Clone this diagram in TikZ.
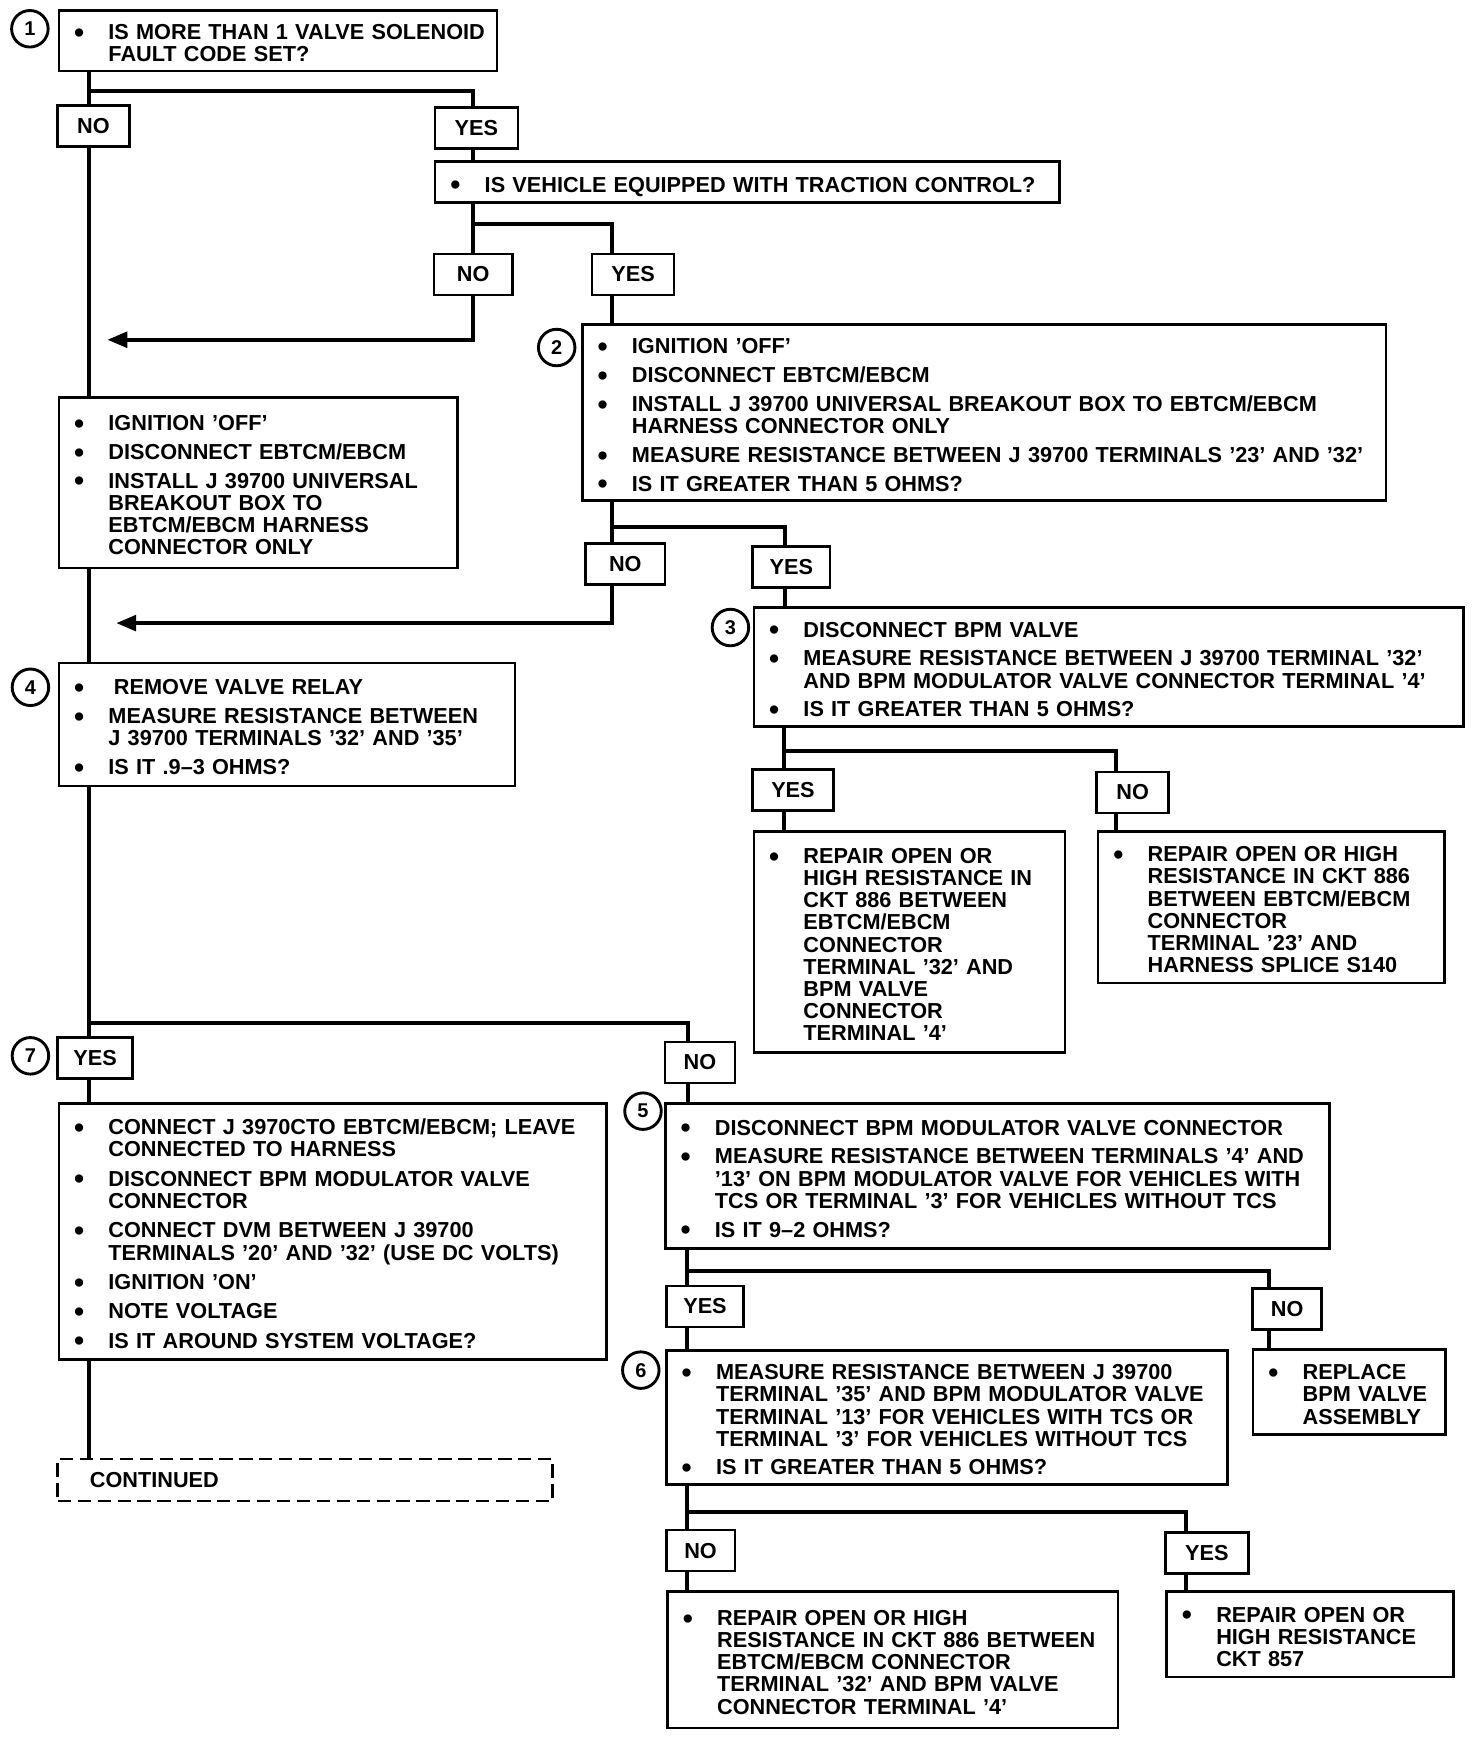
\documentclass[tikz,border=0pt]{standalone}
\usepackage{fontspec}
\setmainfont{Liberation Sans}
\usetikzlibrary{arrows.meta}

\newcommand{\bul}{\makebox[15.5pt][l]{\raisebox{-1.2pt}{\fontsize{13}{13}\selectfont\textbullet}}}
\newenvironment{checks}{\begin{tabular}{@{\hspace{6.9pt}}l@{}l@{}}\rule{0pt}{12pt}\ignorespaces}{\end{tabular}}

\tikzset{
  stepbox/.style={draw,rectangle,line width=1.2pt,anchor=north west,inner xsep=0pt,inner ysep=0pt,align=left},
  tag/.style={draw,rectangle,line width=1.2pt,minimum height=18.5pt,inner sep=0pt},
  num/.style={draw,circle,line width=1.3pt,minimum size=16.5pt,inner sep=0pt,font=\fontsize{9}{10}\selectfont\bfseries},
  link/.style={line width=1.8pt},
  back/.style={link,-{Triangle[length=9pt,width=7pt]}}
}

\begin{document}
\begin{tikzpicture}[x=0.5pt,y=-0.5pt,font=\fontsize{9.8}{10}\selectfont\bfseries]
\useasboundingbox (0,0) rectangle (1330,1570.4);
\node[num] at (27,26) (n1) {1};
\node[num] at (503,314) (n2) {2};
\node[num] at (660,567) (n3) {3};
\node[num] at (27.5,621) (n4) {4};
\node[num] at (581,1004) (n5) {5};
\node[num] at (579,1238) (n6) {6};
\node[num] at (27.5,954) (n7) {7};

\node[stepbox,text width=198pt,minimum height=27.5pt] at (52,8) (q1) {\begin{checks}
\bul & IS MORE THAN 1 VALVE SOLENOID\\ & FAULT CODE SET?\end{checks}};
\node[stepbox,text width=282pt,minimum height=18.5pt] at (392,145) (tc) {\begin{checks}
\bul & IS VEHICLE EQUIPPED WITH TRACTION CONTROL?\end{checks}};
\node[stepbox,text width=363pt,minimum height=79.5pt] at (525,292) (s2) {\begin{checks}
\bul & IGNITION 'OFF'\\[3pt]
\bul & DISCONNECT EBTCM/EBCM\\[3pt]
\bul & INSTALL J 39700 UNIVERSAL BREAKOUT BOX TO EBTCM/EBCM\\ & HARNESS CONNECTOR ONLY\\[3pt]
\bul & MEASURE RESISTANCE BETWEEN J 39700 TERMINALS '23' AND '32'\\[3pt]
\bul & IS IT GREATER THAN 5 OHMS?\end{checks}};
\node[stepbox,text width=180pt,minimum height=77pt] at (52,358) (sA) {\begin{checks}
\bul & IGNITION 'OFF'\\[3pt]
\bul & DISCONNECT EBTCM/EBCM\\[3pt]
\bul & INSTALL J 39700 UNIVERSAL\\ & BREAKOUT BOX TO\\ & EBTCM/EBCM HARNESS\\ & CONNECTOR ONLY\end{checks}};
\node[stepbox,text width=320.5pt,minimum height=53.5pt] at (680,548) (s3) {\begin{checks}
\bul & DISCONNECT BPM  VALVE\\[3pt]
\bul & MEASURE RESISTANCE  BETWEEN J  39700 TERMINAL  '32'\\ & AND BPM MODULATOR VALVE CONNECTOR TERMINAL  '4'\\[3pt]
\bul & IS IT GREATER THAN 5 OHMS?\end{checks}};
\node[stepbox,text width=206pt,minimum height=55.5pt] at (52,598) (s4) {\begin{checks}
\bul & \hspace{2.5pt}REMOVE VALVE RELAY\\[3pt]
\bul & MEASURE  RESISTANCE  BETWEEN\\ & J  39700 TERMINALS '32' AND '35'\\[3pt]
\bul & IS IT .9--3 OHMS?\end{checks}};
\node[stepbox,text width=140.5pt,minimum height=100pt] at (680,750) (rA) {\begin{checks}
\bul & REPAIR OPEN OR\\ & HIGH RESISTANCE IN\\ & CKT 886 BETWEEN\\ & EBTCM/EBCM\\ & CONNECTOR\\ & TERMINAL  '32' AND\\ & BPM  VALVE\\ & CONNECTOR\\ & TERMINAL '4'\end{checks}};
\node[stepbox,text width=156.5pt,minimum height=68.5pt] at (991,750) (rB) {\begin{checks}
\bul & REPAIR OPEN OR HIGH\\ & RESISTANCE IN CKT  886\\ & BETWEEN EBTCM/EBCM\\ & CONNECTOR\\ & TERMINAL  '23' AND\\ & HARNESS SPLICE  S140\end{checks}};
\node[stepbox,text width=247.5pt,minimum height=115.5pt] at (52,996) (s7) {\begin{checks}
\bul & CONNECT J  3970CTO EBTCM/EBCM; LEAVE\\ & CONNECTED TO HARNESS\\[3.3pt]
\bul & DISCONNECT BPM MODULATOR VALVE\\ & CONNECTOR\\[3.3pt]
\bul & CONNECT DVM BETWEEN J  39700\\ & TERMINALS '20' AND '32' (USE DC VOLTS)\\[3.3pt]
\bul & IGNITION 'ON'\\[3.3pt]
\bul & NOTE VOLTAGE\\[3.3pt]
\bul & IS IT AROUND SYSTEM VOLTAGE?\end{checks}};
\node[stepbox,text width=300pt,minimum height=65.5pt] at (600,996) (s5) {\begin{checks}
\bul & DISCONNECT BPM MODULATOR VALVE CONNECTOR\\[3pt]
\bul & MEASURE RESISTANCE BETWEEN TERMINALS  '4' AND\\ & '13' ON BPM MODULATOR VALVE FOR VEHICLES WITH\\ & TCS OR TERMINAL '3' FOR VEHICLES WITHOUT TCS\\[3pt]
\bul & IS IT  9--2  OHMS?\end{checks}};
\node[stepbox,text width=253.5pt,minimum height=60.5pt] at (601,1219) (s6) {\begin{checks}
\bul & MEASURE RESISTANCE BETWEEN J  39700\\ & TERMINAL  '35' AND BPM MODULATOR VALVE\\ & TERMINAL  '13' FOR VEHICLES WITH TCS OR\\ & TERMINAL '3' FOR VEHICLES WITHOUT TCS\\[3pt]
\bul & IS IT GREATER THAN 5  OHMS?\end{checks}};
\node[stepbox,text width=87pt,minimum height=38.5pt] at (1131,1218) (rR) {\begin{checks}
\bul & REPLACE\\ & BPM VALVE\\ & ASSEMBLY\end{checks}};
\node[stepbox,dash pattern=on 6pt off 3pt,text width=223.5pt,minimum height=19pt] at (51,1317) (cont) {\hspace*{14.5pt}CONTINUED};
\node[stepbox,text width=203.5pt,minimum height=61.5pt] at (602,1437) (rC) {\begin{checks}
\bul & REPAIR OPEN OR HIGH\\ & RESISTANCE IN CKT 886 BETWEEN\\ & EBTCM/EBCM CONNECTOR\\ & TERMINAL  '32' AND BPM VALVE\\ & CONNECTOR TERMINAL  '4'\end{checks}};
\node[stepbox,text width=129.5pt,minimum height=38.5pt] at (1053,1437) (rD) {\begin{checks}
\bul & REPAIR OPEN OR\\ & HIGH RESISTANCE\\ & CKT 857\end{checks}};

\node[tag,minimum width=32.5pt] at (84.5,114) (no1) {NO};
\node[tag,minimum width=37.5pt] at (430.5,115.5) (yes1) {YES};
\node[tag,minimum width=35.5pt] at (427.5,248) (no2) {NO};
\node[tag,minimum width=37pt] at (572,248) (yes2) {YES};
\node[tag,minimum width=36pt] at (565,509.5) (no3) {NO};
\node[tag,minimum width=35pt] at (715,512.5) (yes3) {YES};
\node[tag,minimum width=36.5pt] at (716.5,714) (yes4) {YES};
\node[tag,minimum width=32.5pt] at (1023.5,716) (no4) {NO};
\node[tag,minimum width=34pt] at (86,956) (yes7) {YES};
\node[tag,minimum width=31.5pt] at (632.5,960) (no5) {NO};
\node[tag,minimum width=35pt] at (637,1180.5) (yes6) {YES};
\node[tag,minimum width=31pt] at (1163,1182.5) (no6) {NO};
\node[tag,minimum width=31pt] at (633,1401) (no7) {NO};
\node[tag,minimum width=37.5pt] at (1090.5,1403) (yes8) {YES};

\coordinate (j1) at (80,82);    \coordinate (k1) at (427,82);
\coordinate (j2) at (427,202);  \coordinate (k2) at (553,202);
\coordinate (j3) at (553,476);  \coordinate (k3) at (709,476);
\coordinate (j4) at (708,679);  \coordinate (k4) at (1008,679);
\coordinate (j7) at (80,924);   \coordinate (k7) at (622,924);
\coordinate (j5) at (621,1148); \coordinate (k5) at (1147,1148);
\coordinate (j6) at (621,1366); \coordinate (k6) at (1072,1366);
\coordinate (back1) at (97,307);
\coordinate (back2) at (105,563);

\draw[link] (q1.south -| j1) -- (j1 |- no1.north)
      (j1) -- (k1) -- (k1 |- yes1.north)
      (yes1.south -| k1) -- (k1 |- tc.north)
      (no1.south -| j1) -- (j1 |- sA.north)
      (sA.south -| j1) -- (j1 |- s4.north)
      (s4.south -| j1) -- (j1 |- yes7.north)
      (j7) -- (k7) -- (k7 |- no5.north)
      (yes7.south -| j1) -- (j1 |- s7.north)
      (s7.south -| j1) -- (j1 |- cont.north);
\draw[link] (tc.south -| j2) -- (j2 |- no2.north)
      (j2) -- (k2) -- (k2 |- yes2.north)
      (yes2.south -| k2) -- (k2 |- s2.north)
      (s2.south -| j3) -- (j3 |- no3.north)
      (j3) -- (k3) -- (k3 |- yes3.north)
      (yes3.south -| k3) -- (k3 |- s3.north)
      (s3.south -| j4) -- (j4 |- yes4.north)
      (j4) -- (k4) -- (k4 |- no4.north)
      (yes4.south -| j4) -- (j4 |- rA.north)
      (no4.south -| k4) -- (k4 |- rB.north);
\draw[link] (no5.south -| k7) -- (k7 |- s5.north)
      (s5.south -| j5) -- (j5 |- yes6.north)
      (j5) -- (k5) -- (k5 |- no6.north)
      (yes6.south -| j5) -- (j5 |- s6.north)
      (no6.south -| k5) -- (k5 |- rR.north)
      (s6.south -| j6) -- (j6 |- no7.north)
      (j6) -- (k6) -- (k6 |- yes8.north)
      (no7.south -| j6) -- (j6 |- rC.north)
      (yes8.south -| k6) -- (k6 |- rD.north);
\draw[back] (no2.south -| j2) |- (back1);
\draw[back] (no3.south -| j3) |- (back2);
\end{tikzpicture}
\end{document}
